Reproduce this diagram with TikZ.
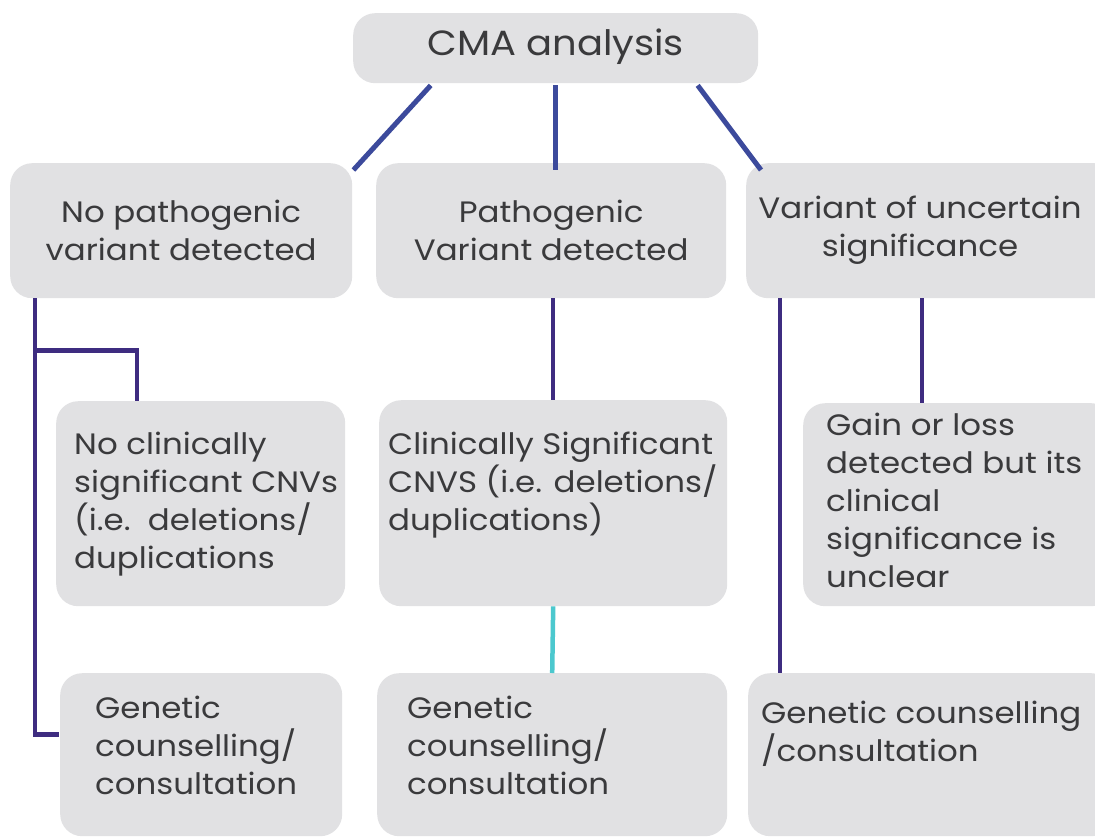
\documentclass[tikz,border=0pt]{standalone}
\usepackage{fontspec}
\setmainfont[FakeStretch=1.1]{Poppins}
\usetikzlibrary{calc}
\definecolor{boxgray}{HTML}{E1E1E3}
\definecolor{txt}{HTML}{3A3A3C}
\definecolor{topline}{HTML}{3C4A9C}
\definecolor{lowline}{HTML}{3E2C80}
\definecolor{cyanline}{HTML}{4CC8CE}
\begin{document}
\begin{tikzpicture}[x=1pt,y=-1pt,
  box/.style={fill=boxgray, rounded corners=22pt, draw=none, inner sep=0pt, anchor=north west},
  lbl/.style={text=txt, inner sep=0pt, anchor=north west, align=left, font=\fontsize{29.5}{38}\selectfont},
  clbl/.style={text=txt, inner sep=0pt, align=center, font=\fontsize{29.5}{38}\selectfont},
  topl/.style={draw=topline, line width=5pt},
  lowl/.style={draw=lowline, line width=4.5pt},
  cyanl/.style={draw=cyanline, line width=4.5pt}]
\fill[white] (0,0) rectangle (1095,838);
\useasboundingbox (0,0) rectangle (1095,838);
\clip (0,0) rectangle (1095,838);
% boxes
\node[box, minimum width=405pt, minimum height=70pt] (cma) at (353,13) {};
\node[box, minimum width=342pt, minimum height=135pt] (nopath) at (10,163) {};
\node[box, minimum width=350pt, minimum height=135pt] (path) at (376,163) {};
\node[box, minimum width=370pt, minimum height=135pt] (vus) at (746,163) {};
\node[box, minimum width=289pt, minimum height=205pt] (nocnv) at (56,401) {};
\node[box, minimum width=348pt, minimum height=206pt] (cnv) at (379,400) {};
\node[box, minimum width=310pt, minimum height=203pt] (gain) at (803,403) {};
\node[box, minimum width=282pt, minimum height=163pt] (gc1) at (60,673) {};
\node[box, minimum width=350pt, minimum height=163pt] (gc2) at (377,673) {};
\node[box, minimum width=365pt, minimum height=163pt] (gc3) at (748,673) {};
% texts
\node[text=txt, inner sep=0pt, font=\fontsize{35}{40}\selectfont] (tcma) at ($(cma.center)+(0,-2)$) {CMA analysis};
\node[clbl] (tnopath) at ($(nopath.center)+(0,0)$) {No pathogenic\\variant detected};
\node[clbl] (tpath) at ($(path.center)+(0,0)$) {Pathogenic\\Variant detected};
\node[clbl] (tvus) at ($(vus.north west)+(174,67)$) {Variant of uncertain\\significance};
\node[lbl] (tnocnv) at (74,432) {No clinically\\significant CNVs\\(i.e.\ \ deletions/\\duplications};
\node[lbl] (tcnv) at (388,432) {Clinically Significant\\CNVS (i.e. deletions/\\duplications)};
\node[lbl] (tgain) at (826,413) {Gain or loss\\detected but its\\clinical\\significance is\\unclear};
\node[lbl] (tgc1) at (95,696) {Genetic\\counselling/\\consultation};
\node[lbl] (tgc2) at (407,696) {Genetic\\counselling/\\consultation};
\node[lbl] (tgc3) at (761,701) {Genetic counselling\\/consultation};
% connectors
\draw[topl] ($(cma.south)+(-125,2)$) -- ($(nopath.north east)+(1,7)$);
\draw[topl] ($(cma.south)+(0,2)$) -- ($(cma.south |- path.north)+(0,7)$);
\draw[topl] ($(cma.south)+(142,2)$) -- ($(vus.north west)+(15,7)$);
\draw[lowl] ($(nopath.south west)+(25,0)$) |- ($(gc1.west)+(-1,-20)$);
\draw[lowl] ($(nopath.south west)+(25,52)$) -| ($(nocnv.north west)+(81,0)$);
\draw[lowl] (cnv.north |- path.south) -- (cnv.north);
\draw[cyanl] (cnv.south) -- (gc2.north);
\coordinate (v1) at ($(gc3.north west)+(32,0)$);
\draw[lowl] (v1 |- vus.south) -- (v1);
\coordinate (g1) at ($(gain.north west)+(119,0)$);
\draw[lowl] (g1 |- vus.south) -- (g1);
\end{tikzpicture}
\end{document}
